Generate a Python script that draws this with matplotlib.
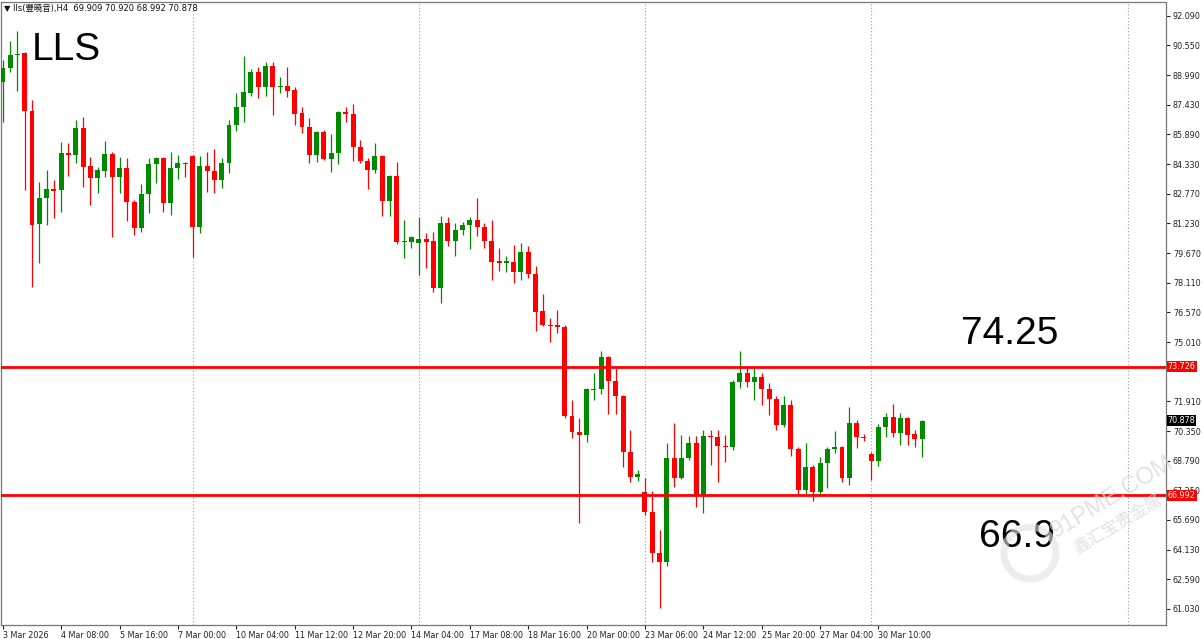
import matplotlib
matplotlib.use("Agg")
import matplotlib.pyplot as plt
import matplotlib.transforms as mtransforms
from matplotlib.patches import Circle
import numpy as np

# --- H4 candles (price) ---
opens = [
    88.63, 89.37, 90.05, 90.15, 87.11, 81.19, 82.56, 83.03, 82.98, 84.91,
    84.81, 86.22, 84.23, 83.60, 83.97, 84.86, 83.66, 84.13, 82.35, 80.99,
    82.77, 84.34, 84.65, 82.30, 84.13, 84.39, 84.76, 81.04, 84.23, 83.97,
    83.50, 84.39, 86.38, 87.32, 88.06, 89.16, 88.37, 89.47, 88.37, 88.42,
    88.21, 87.01, 86.28, 84.81, 86.01, 84.60, 84.91, 87.06, 86.96, 85.23,
    84.50, 84.02, 84.76, 82.40, 83.71, 80.25, 80.25, 80.20, 80.41, 80.30,
    77.84, 81.25, 80.30, 80.88, 81.14, 81.40, 81.04, 80.30, 79.26, 79.15,
    79.20, 78.68, 79.73, 78.58, 76.64, 75.90, 75.90, 75.80, 71.14, 70.30,
    70.14, 72.50, 72.55, 74.23, 72.97, 72.19, 69.25, 67.94, 67.16, 66.11,
    63.96, 63.49, 68.94, 67.89, 68.94, 69.72, 66.95, 70.09, 70.04, 69.57,
    69.51, 72.92, 73.39, 72.92, 73.18, 72.55, 72.03, 70.67, 71.71, 69.41,
    67.26, 68.47, 67.16, 68.68, 69.41, 69.51, 67.89, 70.77, 70.04, 69.15,
    68.78, 70.56, 71.09, 70.25, 71.03, 70.19, 69.909,
]
highs = [
    89.79, 90.78, 91.30, 90.20, 87.69, 83.39, 84.02, 83.50, 85.49, 85.44,
    86.64, 86.80, 84.70, 84.18, 85.54, 84.97, 84.70, 84.65, 82.45, 83.29,
    84.65, 84.70, 84.70, 84.97, 84.81, 84.44, 84.81, 84.76, 84.97, 85.12,
    84.65, 86.64, 88.06, 89.99, 89.31, 89.42, 89.68, 89.68, 88.89, 89.42,
    88.37, 87.32, 86.75, 86.05, 86.12, 85.91, 87.10, 87.32, 87.48, 85.59,
    84.65, 85.44, 84.81, 83.76, 84.44, 81.40, 80.57, 81.56, 80.72, 80.78,
    81.61, 81.56, 81.25, 81.30, 81.56, 82.56, 81.25, 81.40, 79.94, 79.52,
    80.09, 80.20, 80.04, 79.00, 77.53, 76.27, 76.69, 75.90, 71.98, 71.03,
    72.60, 73.39, 74.54, 74.28, 73.71, 72.24, 70.40, 68.31, 67.89, 67.21,
    65.17, 69.72, 70.77, 70.14, 70.09, 70.09, 70.40, 70.40, 70.40, 70.14,
    73.02, 74.54, 73.65, 73.71, 73.39, 72.87, 72.19, 72.19, 71.98, 69.51,
    69.72, 68.57, 68.99, 69.51, 70.35, 69.57, 71.61, 70.93, 70.19, 69.25,
    70.72, 71.30, 71.77, 71.30, 71.09, 70.40, 70.920,
]
lows = [
    86.54, 89.16, 88.16, 82.98, 77.90, 79.15, 81.14, 81.51, 81.82, 83.71,
    84.39, 83.13, 82.19, 82.82, 83.66, 80.51, 82.82, 81.35, 80.62, 80.78,
    81.77, 83.34, 81.82, 81.67, 83.55, 83.66, 79.47, 80.72, 82.87, 82.82,
    83.08, 83.87, 86.07, 86.54, 87.90, 87.79, 87.90, 86.90, 88.06, 87.85,
    86.38, 85.96, 84.39, 84.44, 84.55, 83.92, 84.34, 86.54, 84.50, 84.39,
    83.03, 83.87, 81.61, 81.61, 80.15, 79.41, 79.94, 78.52, 78.89, 77.63,
    77.06, 80.04, 79.52, 80.62, 79.89, 80.57, 79.94, 78.26, 78.73, 78.68,
    78.11, 78.26, 78.37, 75.59, 75.85, 75.01, 75.49, 71.04, 69.99, 65.53,
    69.78, 71.98, 72.29, 71.24, 71.24, 68.47, 67.68, 67.73, 65.95, 63.49,
    61.08, 63.28, 67.42, 67.84, 68.83, 66.37, 66.06, 68.57, 67.68, 68.73,
    69.36, 72.60, 72.66, 71.98, 71.71, 71.19, 70.40, 70.56, 69.04, 67.00,
    67.05, 66.68, 67.00, 67.37, 69.20, 67.68, 67.52, 69.46, 69.83, 67.79,
    68.52, 70.04, 70.04, 69.62, 69.62, 69.51, 68.992,
]
closes = [
    89.37, 90.05, 90.10, 87.11, 81.14, 82.56, 83.03, 82.92, 84.91, 84.81,
    86.22, 84.18, 83.60, 84.02, 84.86, 83.66, 84.13, 82.35, 80.99, 82.77,
    84.34, 84.65, 82.30, 84.13, 84.39, 84.34, 81.04, 84.23, 83.97, 83.50,
    84.39, 86.38, 87.32, 88.11, 89.16, 88.37, 89.47, 88.37, 88.42, 88.16,
    86.96, 86.28, 84.81, 86.01, 84.60, 84.91, 87.06, 86.96, 85.23, 84.50,
    84.02, 84.76, 82.40, 83.71, 80.25, 80.28, 80.51, 80.41, 80.25, 77.84,
    81.25, 80.30, 80.88, 81.14, 81.40, 81.04, 80.30, 79.20, 79.15, 79.26,
    78.68, 79.73, 78.58, 76.59, 75.90, 75.85, 75.80, 71.14, 70.30, 70.14,
    72.55, 72.55, 74.23, 72.97, 72.19, 69.25, 67.94, 68.10, 66.11, 63.96,
    63.49, 68.94, 67.89, 68.94, 69.72, 66.95, 70.09, 70.04, 69.57, 69.51,
    72.92, 73.39, 72.92, 73.18, 72.55, 72.03, 70.67, 71.71, 69.41, 67.26,
    68.47, 67.16, 68.68, 69.41, 69.51, 67.89, 70.77, 70.04, 69.99, 68.78,
    70.56, 71.09, 70.25, 71.03, 70.14, 69.93, 70.878,
]

# bar index -> date label (every 8 bars)
date_labels = [
    "3 Mar 2026", "4 Mar 08:00", "5 Mar 16:00", "7 Mar 00:00", "10 Mar 04:00",
    "11 Mar 12:00", "12 Mar 20:00", "14 Mar 04:00", "17 Mar 08:00", "18 Mar 16:00",
    "20 Mar 00:00", "23 Mar 06:00", "24 Mar 12:00", "25 Mar 20:00", "27 Mar 04:00",
    "30 Mar 10:00",
]
price_ticks = [92.09, 90.55, 88.99, 87.43, 85.89, 84.33, 82.77, 81.23, 79.67,
               78.11, 76.57, 75.01, 71.91, 70.35, 68.79, 67.25, 65.69, 64.13,
               62.59, 61.03]
levels = [73.726, 66.992]
week_bars = [26, 57, 88, 119, 154.2]

BULL = "#008a00"
BEAR = "#ff0000"
W, H = 1203, 639


def main():
    fig = plt.figure(figsize=(W / 100, H / 100), dpi=100)
    ax = fig.add_axes([0.5 / W, 1 - 625 / H, 1165.5 / W, 623 / H])

    o = np.array(opens)
    h = np.array(highs)
    l = np.array(lows)
    c = np.array(closes)
    x = np.arange(len(o))
    cols = np.where(c >= o, BULL, BEAR)

    ax.vlines(x, l, h, colors=cols, linewidth=0.9, zorder=2)
    body = np.maximum(np.abs(c - o), 0.06)
    ax.bar(x, body, bottom=np.minimum(o, c), width=0.68, color=cols,
           linewidth=0, zorder=3)

    for wb in week_bars:
        ax.axvline(wb, color="#9a9a9a", linestyle=(0, (1, 2)), linewidth=0.8,
                   zorder=1)
    for lv in levels:
        ax.axhline(lv, color="#ff0000", linewidth=2, zorder=4)

    ax.set_xlim(-0.315, 159.4)
    ax.set_ylim(60.19, 92.82)

    # right price scale
    ax.yaxis.tick_right()
    ax.set_yticks(price_ticks)
    ax.set_yticklabels([f"{p:.3f}" for p in price_ticks])
    ax.tick_params(axis="y", direction="out", length=3, pad=2,
                   labelsize=5.8, colors="#222222", width=0.8)

    # bottom time scale
    ax.set_xticks(np.arange(len(date_labels)) * 8)
    ax.set_xticklabels(date_labels)
    for lbl in ax.get_xticklabels():
        lbl.set_ha("left")
    ax.tick_params(axis="x", direction="out", length=3, pad=1,
                   labelsize=5.8, colors="#222222", width=0.8)

    for sp in ax.spines.values():
        sp.set_color("#777777")
        sp.set_linewidth(0.9)

    # price boxes on the scale
    trans = mtransforms.blended_transform_factory(ax.transAxes, ax.transData)
    boxes = [(levels[0], BEAR), (closes[-1], "black"), (levels[1], BEAR)]
    for val, bg in boxes:
        ax.text(1.0015, val, f"{val:.3f}", transform=trans, ha="left",
                va="center", fontsize=5.8, color="white", clip_on=False,
                zorder=10,
                bbox=dict(boxstyle="square,pad=0.12", fc=bg, ec="none"))

    # header line
    fig.text(4 / W, 1 - 8 / H,
             "\u25bc lls(豐曉音),H4  69.909 70.920 68.992 70.878",
             fontsize=6, va="center", ha="left", color="#111111",
             family=["DejaVu Sans", "Noto Sans CJK SC"])

    big = dict(fontsize=28, family="Liberation Sans", color="black",
               va="baseline", ha="left")
    fig.text(32 / W, 1 - 60 / H, "LLS", **big)
    fig.text(961 / W, 1 - 344 / H, "74.25", **big)
    fig.text(979 / W, 1 - 547 / H, "66.9", **big)

    # faint watermark
    wm = "#d6d6d6"
    fig.text(1112 / W, 1 - 497 / H, "91PME.COM", rotation=31, fontsize=17,
             color=wm, alpha=0.7, ha="center", va="center",
             family="Liberation Sans", zorder=20)
    fig.text(1118 / W, 1 - 524 / H, "鑫汇宝贵金属", rotation=31, fontsize=12,
             color=wm, alpha=0.7, ha="center", va="center",
             family=["Noto Sans CJK SC"], zorder=20)
    circ = Circle((1030, H - 553), 26, transform=None, fill=False,
                  ec="#e2e2e2", lw=5, alpha=0.6, zorder=20)
    fig.patches.append(circ)

    fig.savefig("out.png", dpi=100)


if __name__ == "__main__":
    main()
